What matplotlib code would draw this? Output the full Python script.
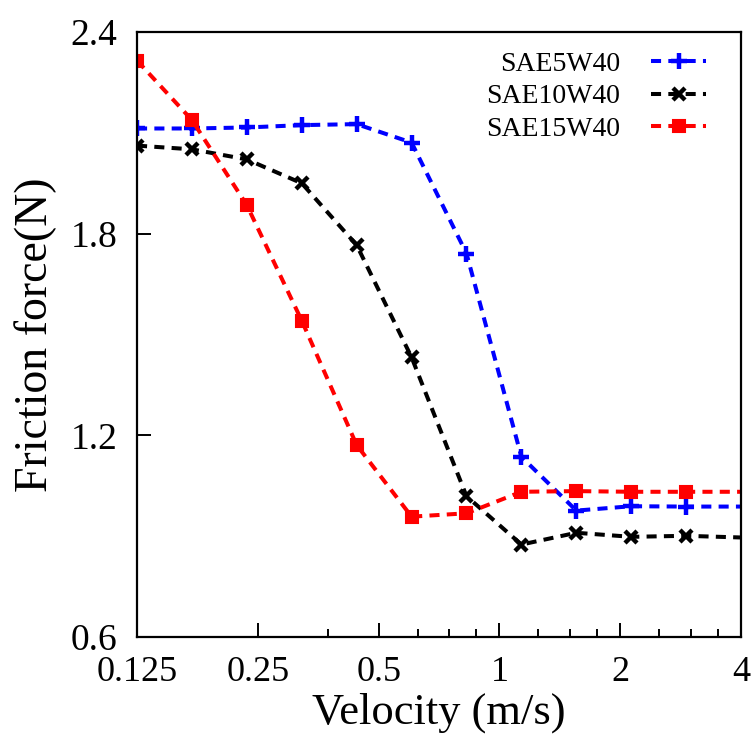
import matplotlib
matplotlib.use("Agg")
import matplotlib.pyplot as plt
from matplotlib.ticker import NullFormatter

plt.rcParams['font.family'] = ['Liberation Serif', 'DejaVu Serif']

# velocity points (m/s), evenly spaced on the log2 axis
velocity = [0.125, 0.1713, 0.2347, 0.3217, 0.4408, 0.6041,
            0.8278, 1.1344, 1.5546, 2.1304, 2.9195, 4.0]

# friction force (N)
sae5w40 = [2.113, 2.113, 2.116, 2.123, 2.126, 2.071,
           1.741, 1.136, 0.976, 0.989, 0.988, 0.988]
sae10w40 = [2.062, 2.051, 2.021, 1.950, 1.766, 1.432,
            1.019, 0.875, 0.910, 0.898, 0.901, 0.896]
sae15w40 = [2.315, 2.138, 1.885, 1.541, 1.171, 0.958,
            0.968, 1.032, 1.034, 1.032, 1.032, 1.032]

xticks = [0.125, 0.25, 0.5, 1, 2, 4]
xticklabels = ['0.125', '0.25', '0.5', '1', '2', '4']
xminor = [0.375, 0.625, 0.75, 0.875, 1.25, 1.5, 1.75, 2.5, 3, 3.5]
yticks = [0.6, 1.2, 1.8, 2.4]
yticklabels = ['0.6', '1.2', '1.8', '2.4']

fig = plt.figure(figsize=(7.55, 7.38), dpi=100)
ax = fig.add_axes([0.1815, 0.1369, 0.8, 0.8197])

dash = (0, (2.5, 1.8))
lw = 2.9
# last point sits on the right border, no marker drawn there
marks = list(range(len(velocity) - 1))

ax.plot(velocity, sae5w40, color='blue', linestyle=dash, lw=lw,
        marker='+', ms=11, mew=3.2, markevery=marks, label='SAE5W40')
ax.plot(velocity, sae10w40, color='black', linestyle=dash, lw=lw,
        marker='x', ms=9, mew=3.2, markevery=marks, label='SAE10W40')
ax.plot(velocity, sae15w40, color='red', linestyle=dash, lw=lw,
        marker='s', ms=9, mew=1.5, markevery=marks, label='SAE15W40')

ax.set_xscale('log', base=2)
ax.set_xlim(0.125, 4)
ax.set_ylim(0.6, 2.4)
ax.set_xticks(xticks)
ax.set_xticklabels(xticklabels)
ax.set_xticks(xminor, minor=True)
ax.xaxis.set_minor_formatter(NullFormatter())
ax.set_yticks(yticks)
ax.set_yticklabels(yticklabels)

ax.tick_params(which='both', direction='in', top=False, right=False,
               width=1.4)
ax.tick_params(which='major', length=10)
ax.tick_params(which='minor', length=6)
ax.tick_params(axis='x', labelsize=26, pad=14)
ax.tick_params(axis='y', labelsize=27, pad=14)
for s in ax.spines.values():
    s.set_linewidth(1.6)

ax.set_xlabel('Velocity (m/s)', fontsize=32, labelpad=2)
ax.set_ylabel('Friction force(N)', fontsize=33, labelpad=10)

ax.legend(loc='upper right', frameon=False, markerfirst=False, fontsize=20,
          handlelength=2.0, handletextpad=1.1, labelspacing=0.25,
          borderaxespad=0.3, bbox_to_anchor=(0.975, 1.0))

fig.savefig('out.png', dpi=100)
